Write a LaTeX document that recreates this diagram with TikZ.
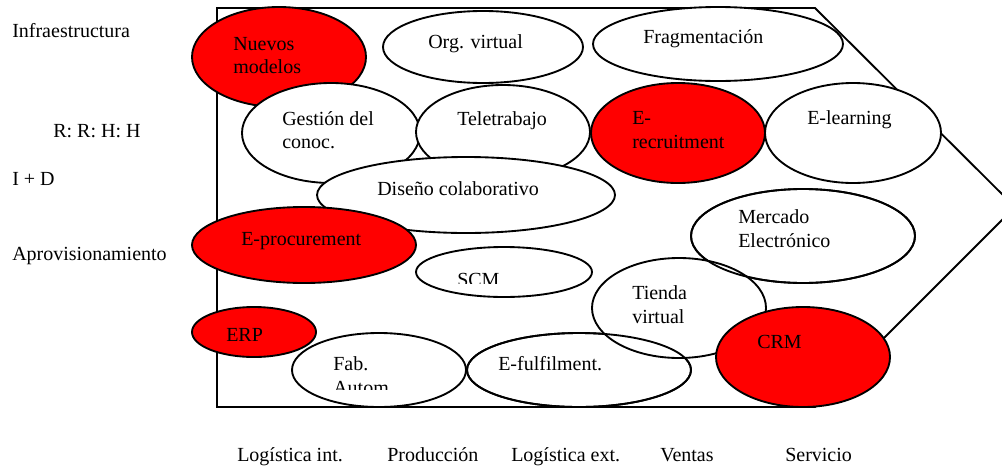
\documentclass[tikz,border=0pt]{standalone}
\usepackage{fontspec}
\setmainfont{Liberation Serif}
\usetikzlibrary{shapes.geometric}
\definecolor{vred}{RGB}{255,0,0}
\tikzset{
  lw/.style={line width=1.4pt},
  ell/.style 2 args={ellipse, draw, lw, fill=white, inner sep=0pt, minimum width={#1*1.5pt}, minimum height={#2*1.5pt}},
  redell/.style={fill=vred},
  ring/.style 2 args={ellipse, draw, lw, inner sep=0pt, minimum width={#1*1.5pt}, minimum height={#2*1.5pt}},
  txt/.style={anchor=base west, inner sep=0pt, font=\fontsize{15}{18}\selectfont}
}
\begin{document}
\begin{tikzpicture}[x=0.75pt,y=-0.75pt]
\useasboundingbox (0,0) rectangle (1002,468);
% value chain outline
\coordinate (p1) at (217,8);
\coordinate (p2) at (815,8);
\coordinate (p3) at (1015,207);
\coordinate (p4) at (815,407);
\coordinate (p5) at (217,407);
\draw[lw, line join=miter] (p1) -- (p2) -- (p3) -- (p4) -- (p5) -- cycle;
% ellipses
\node[ell={87}{50}, redell] (nm) at (279,57) {};
\node[ell={100}{36}] (ov) at (483,47) {};
\node[ell={125}{37}] (fr) at (718,44) {};
\node[ell={89}{50}] (gc) at (331,133) {};
\node[ell={87}{47}] (tt) at (503,132) {};
\node[ell={87}{50}, redell] (er) at (678,133) {};
\node[ell={88}{50}] (el) at (853,133) {};
\node[ell={149}{38}] (dc) at (466,195) {};
\node[ell={112}{38}, redell] (ep) at (304,245) {};
\node[ell={88}{25}] (scm) at (504,272) {};
\node[ell={112}{47}] (me) at (803,236) {};
\node[ell={112}{37}] (ef) at (579,370) {};
\node[ell={87}{50}] (tv) at (679,308) {};
\node[ring={112}{47}] (me2) at (803,236) {};
\node[ring={112}{37}] (ef2) at (579,370) {};
\node[ell={62}{25}, redell] (erp) at (254,332) {};
\node[ell={87}{37}] (fa) at (379,370) {};
\node[ell={87}{50}, redell] (crm) at (803,357) {};
% texts in ellipses
\node[txt] (tnm1) at (233,50) {Nuevos};
\node[txt] (tnm2) at (233,73) {modelos};
\node[txt] (tov) at (428,48) {Org. virtual};
\node[txt] (tfr) at (643,43) {Fragmentación};
\node[txt] (tgc1) at (282,125) {Gestión del};
\node[txt] (tgc2) at (282,148) {conoc.};
\node[txt] (ttt) at (457,125) {Teletrabajo};
\node[txt] (ter1) at (632,124) {E-};
\node[txt] (ter2) at (632,148) {recruitment};
\node[txt] (tel) at (807,124) {E-learning};
\node[txt] (tdc) at (377,195) {Diseño colaborativo};
\node[txt] (tep) at (241,245) {E-procurement};
\begin{scope}
\clip (420,250) rectangle (590,283);
\node[txt] (tscm) at (457,286) {SCM};
\end{scope}
\node[txt] (tme1) at (738,223) {Mercado};
\node[txt] (tme2) at (738,247) {Electrónico};
\node[txt] (ttv1) at (632,299) {Tienda};
\node[txt] (ttv2) at (632,323) {virtual};
\node[txt] (terp) at (226,341) {ERP};
\node[txt] (tfa1) at (333,370) {Fab.};
\begin{scope}
\clip (300,375) rectangle (460,389);
\node[txt] (tfa2) at (333,394) {Autom};
\end{scope}
\node[txt] (tef) at (498,370) {E-fulfilment.};
\node[txt] (tcrm) at (757,348) {CRM};
% side labels
\node[txt] (l1) at (12,37) {Infraestructura};
\node[txt] (l2) at (53,137) {R: R: H: H};
\node[txt] (l3) at (12,185) {I + D};
\node[txt] (l4) at (12,260) {Aprovisionamiento};
% bottom labels
\node[txt] (b1) at (237,461) {Logística int.};
\node[txt] (b2) at (387,461) {Producción};
\node[txt] (b3) at (511,461) {Logística ext.};
\node[txt] (b4) at (660,461) {Ventas};
\node[txt] (b5) at (785,461) {Servicio};
\end{tikzpicture}
\end{document}
